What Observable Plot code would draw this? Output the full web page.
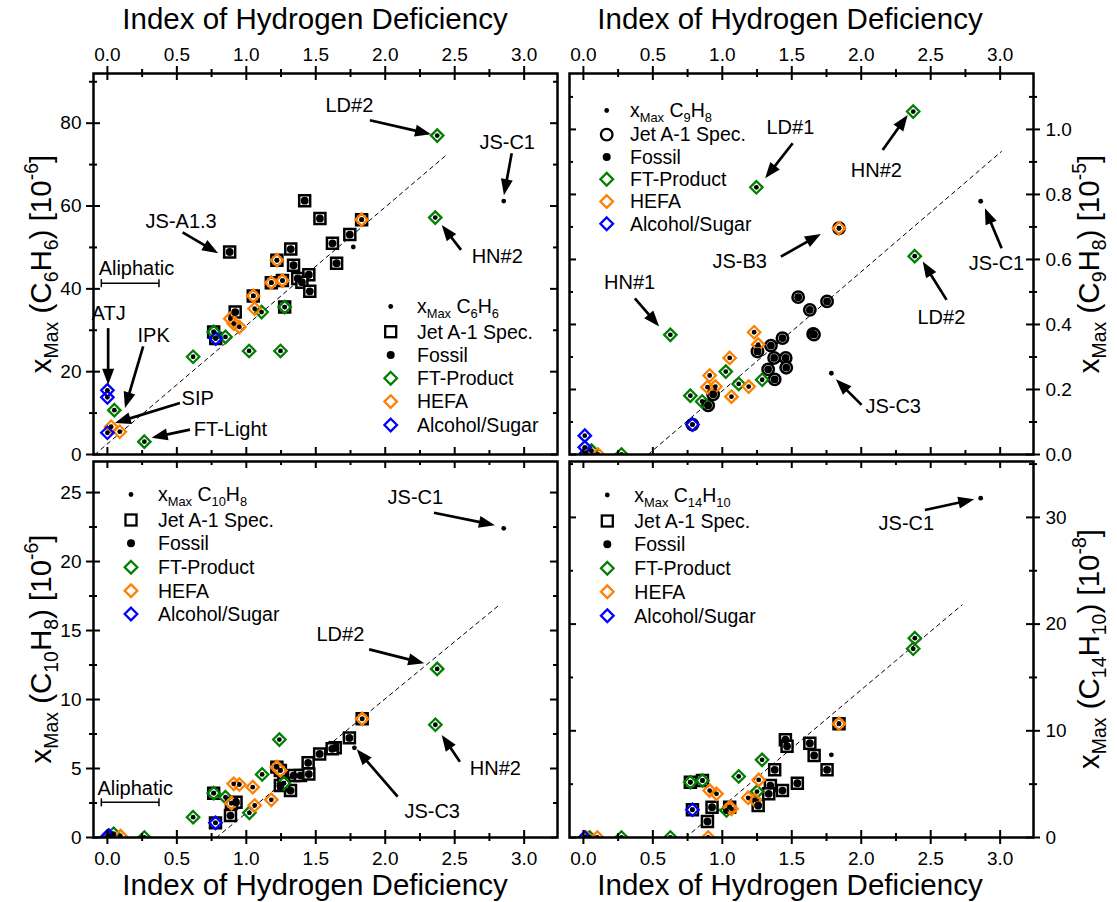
<!DOCTYPE html>
<html><head><meta charset="utf-8">
<script src="https://cdn.jsdelivr.net/npm/d3@7"></script>
<script src="https://cdn.jsdelivr.net/npm/@observablehq/plot@0.6"></script>
<style>
body{margin:0;background:#fff;}
#root{position:relative;width:1117px;height:902px;background:#fff;overflow:hidden;font-family:"Liberation Sans",Arial,sans-serif}
#root svg{position:absolute}
</style></head><body><div id="root"></div>
<script>
// ---------- tick values ----------
const xMajor = [0, 0.5, 1, 1.5, 2, 2.5, 3];
const xMinor = [0.25, 0.75, 1.25, 1.75, 2.25, 2.75];
const c6h6YMajor = [0, 20, 40, 60, 80];
const c6h6YMinor = [10, 30, 50, 70, 90];
const c9h8YMajor = [0, 0.2, 0.4, 0.6, 0.8, 1.0];
const c9h8YMinor = [0.1, 0.3, 0.5, 0.7, 0.9, 1.1];
const c10h8YMajor = [0, 5, 10, 15, 20, 25];
const c10h8YMinor = [2.5, 7.5, 12.5, 17.5, 22.5];
const c14h10YMajor = [0, 10, 20, 30];
const c14h10YMinor = [5, 15, 25, 35];

// ---------- C6H6 (top-left) : [IHD, xMax] ----------
const c6h6Spec = [[1.42,61.3],[1.53,57.0],[1.745,53.1],[1.62,51.0],[1.65,46.2],[0.88,48.9],[1.32,49.6],[1.34,45.7],[1.45,43.4],[1.37,42.5],[1.40,41.6],[1.457,39.4],[0.92,34.4],[0.78,28.0],[1.83,56.7],[1.22,46.9],[1.26,42.0],[1.18,41.5],[1.05,38.3],[1.276,35.6],[0.765,29.6]];
const c6h6Fossil = [[1.42,61.3],[1.53,57.0],[1.745,53.1],[1.62,51.0],[1.65,46.2],[0.88,48.9],[1.32,49.6],[1.34,45.7],[1.45,43.4],[1.37,42.5],[1.40,41.6],[1.457,39.4],[0.92,34.4]];
const c6h6FT = [[1.276,35.6],[0.765,29.6],[1.11,34.4],[0.85,28.4],[0.617,23.6],[1.02,25.0],[1.246,25.0],[2.374,77.0],[2.36,57.2],[0.05,10.7],[0.266,3.1]];
const c6h6HEFA = [[1.83,56.7],[1.22,46.9],[1.26,42.0],[1.18,41.5],[1.05,38.3],[1.06,35.2],[0.885,32.8],[0.91,31.6],[0.95,30.8],[0.027,6.7],[0.089,5.5]];
const c6h6Alc = [[0.78,28.0],[0.0,15.5],[0.0,13.8],[0.0,5.25]];
const c6h6Lone = [[2.853,61.2],[1.77,50.1]];
const c6h6Fit = [[-0.09,0],[2.45,72.6]];
const c6h6Labels = [["LD#2",1.742,84.2],["JS-C1",2.878,75.4],["HN#2",2.806,47.7],["JS-A1.3",0.531,56.3],["Aliphatic",0.209,44.9],["ATJ",0.009,34.0],["IPK",0.333,28.8],["SIP",0.65,13.5],["FT-Light",0.886,5.9]];
const c6h6Arrows = [[1.893,80.6,2.333,77.2],[2.914,72.6,2.858,62.5],[2.549,49.3,2.41,55.3],[0.545,53.5,0.801,48.5],[0.009,30.4,0.009,16.7],[0.261,26.0,0.13,11.1],[0.526,12.3,0.058,7.5],[0.598,5.9,0.322,3.9]];
const c6h6Bar = [-0.04, 0.375, 41.25];

// ---------- C9H8 (top-right) ----------
const c9h8Spec = [[1.546,0.484],[1.63,0.445],[1.654,0.371],[1.754,0.471],[1.66,0.369],[1.433,0.358],[1.35,0.335],[1.373,0.297],[1.456,0.297],[1.46,0.267],[1.33,0.262],[1.377,0.231],[1.253,0.317],[0.934,0.185],[0.898,0.151],[0.785,0.092],[1.84,0.696]];
const c9h8Fossil = [[1.546,0.484],[1.63,0.445],[1.654,0.371],[1.754,0.471],[1.66,0.369],[1.433,0.358],[1.35,0.335],[1.373,0.297],[1.456,0.297],[1.46,0.267],[1.33,0.262],[1.377,0.231],[1.253,0.317],[0.934,0.185],[0.898,0.151]];
const c9h8FT = [[0.626,0.368],[1.025,0.255],[1.118,0.217],[1.287,0.23],[0.77,0.181],[0.855,0.163],[2.374,1.055],[1.245,0.822],[2.385,0.61],[0.058,0.012],[0.274,0.0]];
const c9h8HEFA = [[1.229,0.376],[1.258,0.338],[1.053,0.297],[0.909,0.243],[0.893,0.207],[0.95,0.209],[1.066,0.178],[1.19,0.209],[1.84,0.696],[0.017,0.0],[0.105,0.0]];
const c9h8Alc = [[0.785,0.092],[0.01,0.058],[0.01,0.022],[0.02,0.004]];
const c9h8Lone = [[2.86,0.779],[1.785,0.25]];
const c9h8Fit = [[0.466,0.0],[3.009,0.932]];
const c9h8Labels = [["LD#1",1.49,1.007],["JS-B3",1.125,0.592],["HN#1",0.333,0.53],["HN#2",2.109,0.874],["JS-C1",2.973,0.587],["LD#2",2.577,0.421],["JS-C3",2.23,0.146]];
const c9h8Arrows = [[1.51,0.956,1.312,0.848],[1.425,0.607,1.713,0.677],[0.374,0.479,0.549,0.392],[2.158,0.935,2.338,1.043],[3.014,0.633,2.894,0.756],[2.618,0.474,2.446,0.592],[2.006,0.151,1.821,0.23]];

// ---------- C10H8 (bottom-left) ----------
const c10h8Spec = [[1.742,7.22],[1.64,6.5],[1.618,6.43],[1.528,6.06],[1.445,5.41],[1.34,4.49],[1.39,4.49],[1.45,4.6],[1.318,3.4],[1.245,3.77],[0.926,2.56],[0.886,1.59],[1.834,8.6],[1.22,5.1],[1.245,4.86],[0.893,2.49],[0.765,3.21],[1.27,3.93],[0.778,1.06]];
const c10h8Fossil = [[1.742,7.22],[1.64,6.5],[1.618,6.43],[1.528,6.06],[1.445,5.41],[1.34,4.49],[1.39,4.49],[1.45,4.6],[1.318,3.4],[1.245,3.77],[0.926,2.56],[0.886,1.59]];
const c10h8FT = [[2.374,12.22],[2.361,8.17],[1.238,7.1],[1.114,4.57],[0.85,2.92],[1.022,1.79],[0.617,1.47],[0.765,3.21],[1.27,3.93],[0.045,0.27],[0.266,0.0]];
const c10h8HEFA = [[1.834,8.6],[1.22,5.1],[1.245,4.86],[0.893,2.49],[1.046,3.65],[0.909,3.89],[0.95,3.84],[1.06,2.32],[1.18,2.73],[0.094,0.1],[0.02,0.05]];
const c10h8Alc = [[0.778,1.06],[0.01,0.14],[0.0,0.08]];
const c10h8Lone = [[2.853,22.41],[1.778,6.5]];
const c10h8Fit = [[0.785,0],[2.81,16.76]];
const c10h8Labels = [["JS-C1",2.217,24.66],["LD#2",1.677,14.71],["HN#2",2.793,4.98],["JS-C3",2.338,1.88],["Aliphatic",0.2,3.53]];
const c10h8Arrows = [[2.354,23.5,2.793,22.6],[1.888,13.6,2.284,12.59],[2.541,5.46,2.41,7.39],[2.093,2.92,1.798,6.36]];
const c10h8Bar = [-0.04, 0.375, 2.51];

// ---------- C14H10 (bottom-right) ----------
const c14h10Spec = [[1.454,9.16],[1.466,8.56],[1.63,8.84],[1.661,7.69],[1.754,6.34],[1.377,6.34],[1.346,4.87],[1.334,4.09],[1.54,5.09],[1.433,4.4],[1.258,3.0],[0.926,2.84],[0.893,1.5],[0.77,5.18],[0.857,5.34],[1.84,10.66],[1.053,2.84],[0.785,2.6]];
const c14h10Fossil = [[1.454,9.16],[1.466,8.56],[1.63,8.84],[1.661,7.69],[1.754,6.34],[1.377,6.34],[1.346,4.87],[1.334,4.09],[1.54,5.09],[1.433,4.4],[1.258,3.0],[0.926,2.84],[0.893,1.5]];
const c14h10FT = [[2.386,18.68],[2.374,17.69],[1.286,7.28],[1.118,5.72],[1.25,4.3],[1.03,2.53],[0.77,5.18],[0.857,5.34],[0.626,0.0],[0.274,0.0],[0.045,0.0]];
const c14h10HEFA = [[1.84,10.66],[1.053,2.84],[0.909,4.4],[0.958,4.09],[1.262,5.4],[1.186,3.72],[1.233,3.53],[1.066,2.69],[0.898,0.0],[0.1,0.0],[0.02,0.0]];
const c14h10Alc = [[0.785,2.6],[0.01,0.0]];
const c14h10Lone = [[2.86,31.8],[1.785,7.75]];
const c14h10Fit = [[0.737,0],[2.726,21.8]];
const c14h10Labels = [["JS-C1",2.325,29.46]];
const c14h10Arrows = [[2.462,30.65,2.817,31.65]];

const legendNames = ["Jet A-1 Spec.", "Fossil", "FT-Product", "HEFA", "Alcohol/Sugar"];

// ---------- helpers ----------
const FONT = "'Liberation Sans', Arial, Helvetica, sans-serif";
const GREEN = "#008000", ORANGE = "#ff8000", BLUE = "#0000ff";
const X_DOMAIN = [-0.1, 3.24];

function rich(text, segs, size) {
  let cur = 0;
  for (const [t, k] of segs) {
    const target = k === "sub" ? 0.24 * size : k === "sup" ? -0.42 * size : 0;
    text.append("tspan").attr("dy", target - cur).attr("font-size", k ? 0.66 * size : size).text(t);
    cur = target;
  }
}

function arrowsMark(list) {
  return (index, scales) => {
    const g = d3.create("svg:g");
    for (const [a, b, c, d] of list) {
      const x1 = scales.x(a), y1 = scales.y(b), x2 = scales.x(c), y2 = scales.y(d);
      const ang = Math.atan2(y2 - y1, x2 - x1), L = 16, Wd = 6;
      const bx = x2 - L * Math.cos(ang), by = y2 - L * Math.sin(ang);
      const nx = -Math.sin(ang) * Wd, ny = Math.cos(ang) * Wd;
      g.append("line").attr("x1", x1).attr("y1", y1)
        .attr("x2", bx + 2 * Math.cos(ang)).attr("y2", by + 2 * Math.sin(ang))
        .attr("stroke", "black").attr("stroke-width", 2.7);
      g.append("path").attr("d", `M${x2},${y2}L${bx + nx},${by + ny}L${bx - nx},${by - ny}Z`).attr("fill", "black");
    }
    return g.node();
  };
}

function barMark(bar) {
  return (index, scales) => {
    const g = d3.create("svg:g").attr("stroke", "black").attr("stroke-width", 1.5);
    const xa = scales.x(bar[0]), xb = scales.x(bar[1]), y = scales.y(bar[2]);
    g.append("line").attr("x1", xa).attr("x2", xb).attr("y1", y).attr("y2", y);
    g.append("line").attr("x1", xa).attr("x2", xa).attr("y1", y - 4).attr("y2", y + 4);
    g.append("line").attr("x1", xb).attr("x2", xb).attr("y1", y - 4).attr("y2", y + 4);
    return g.node();
  };
}

function legendMark(lg) {
  return () => {
    const g = d3.create("svg:g").attr("text-anchor", "start");
    const {sx, tx, rows, circle, formula} = lg;
    const fs = 19.5;
    g.append("circle").attr("cx", sx).attr("cy", rows[0]).attr("r", 2.4).attr("fill", "black");
    if (circle) g.append("circle").attr("cx", sx).attr("cy", rows[1]).attr("r", 5.8).attr("fill", "white").attr("stroke", "black").attr("stroke-width", 2.3);
    else g.append("rect").attr("x", sx - 5.5).attr("y", rows[1] - 5.5).attr("width", 11).attr("height", 11).attr("fill", "white").attr("stroke", "black").attr("stroke-width", 2.3);
    g.append("circle").attr("cx", sx).attr("cy", rows[2]).attr("r", 4).attr("fill", "black");
    [GREEN, ORANGE, BLUE].forEach((c, i) => {
      const y = rows[3 + i], h = 6.3;
      g.append("path").attr("d", `M${sx},${y - h}L${sx + h},${y}L${sx},${y + h}L${sx - h},${y}Z`)
        .attr("fill", "none").attr("stroke", c).attr("stroke-width", 2.3);
    });
    const t0 = g.append("text").attr("x", tx).attr("y", rows[0] + 0.35 * fs).attr("font-size", fs)
      .attr("text-anchor", "start").style("white-space", "pre");
    rich(t0, formula, fs);
    legendNames.forEach((n, i) => {
      g.append("text").attr("x", tx).attr("y", rows[i + 1] + 0.35 * fs).attr("font-size", fs)
        .attr("text-anchor", "start").text(n);
    });
    return g.node();
  };
}

function panel(p) {
  const W = p.width - p.ml - p.mr, H = p.height - p.mt - p.mb;
  const tk = {stroke: "black", strokeWidth: 2};
  const xr = (vals, len, side) => {
    const o = {...tk};
    if (side === "bottom-in") Object.assign(o, {insetTop: H - len, insetBottom: 0});
    if (side === "top-in") Object.assign(o, {insetTop: 0, insetBottom: H - len});
    if (side === "top-out") Object.assign(o, {insetTop: -len, insetBottom: H});
    if (side === "bottom-out") Object.assign(o, {insetTop: H, insetBottom: -len});
    return Plot.ruleX(vals, o);
  };
  const yr = (vals, len, side) => {
    const o = {...tk};
    if (side === "left-in") Object.assign(o, {insetLeft: 0, insetRight: W - len});
    if (side === "right-in") Object.assign(o, {insetLeft: W - len, insetRight: 0});
    if (side === "left-out") Object.assign(o, {insetLeft: -len, insetRight: W});
    if (side === "right-out") Object.assign(o, {insetLeft: W, insetRight: -len});
    return Plot.ruleY(vals, o);
  };
  const xOut = p.xAxis === "top" ? "top-out" : "bottom-out";
  const yOut = p.yAxis === "left" ? "left-out" : "right-out";
  const X = d => d[0], Y = d => d[1];
  const all = [...p.spec, ...p.ft, ...p.hefa, ...p.alc, ...p.lone];
  const dia = (data, c) => Plot.dot(data, {x: X, y: Y, symbol: "diamond2", r: 5.6, stroke: c, strokeWidth: 2.3, fill: "none", clip: true});
  const marks = [
    Plot.line(p.fit, {x: X, y: Y, stroke: "black", strokeWidth: 1, strokeDasharray: "4,4"}),
    Plot.dot(p.spec, {x: X, y: Y, symbol: p.circle ? "circle" : "square", r: p.circle ? 5.7 : 6.2, stroke: "black", strokeWidth: 2.5, fill: "white", clip: true}),
    dia(p.ft, GREEN), dia(p.hefa, ORANGE), dia(p.alc, BLUE),
    Plot.dot(p.fossil, {x: X, y: Y, r: 3.9, fill: "black", clip: true}),
    Plot.dot(all, {x: X, y: Y, r: 2.4, fill: "black", clip: true}),
    Plot.text(p.labels, {x: d => d[1], y: d => d[2], text: d => d[0], fontSize: 20, fill: "black"}),
    arrowsMark(p.arrows),
    xr(xMajor, 7, "bottom-in"), xr(xMinor, 4, "bottom-in"),
    xr(xMajor, 7, "top-in"), xr(xMinor, 4, "top-in"),
    xr(xMajor, 7, xOut), xr(xMinor, 4, xOut),
    yr(p.yMajor, 7, "left-in"), yr(p.yMinor, 4, "left-in"),
    yr(p.yMajor, 7, "right-in"), yr(p.yMinor, 4, "right-in"),
    yr(p.yMajor, 7, yOut), yr(p.yMinor, 4, yOut),
    Plot.frame({stroke: "black", strokeWidth: 2.5}),
    legendMark(p.legend)
  ];
  if (p.bar) marks.push(barMark(p.bar));
  const svg = Plot.plot({
    width: p.width, height: p.height,
    marginTop: p.mt, marginRight: p.mr, marginBottom: p.mb, marginLeft: p.ml,
    x: {domain: X_DOMAIN, axis: p.xAxis, ticks: xMajor, tickFormat: d3.format(".1f"), tickSize: 0, tickPadding: p.xAxis === "top" ? 13 : 14, label: null},
    y: {domain: p.yDomain, axis: p.yAxis, ticks: p.yMajor, tickFormat: p.yFormat, tickSize: 0, tickPadding: 12, label: null},
    style: {background: "transparent", overflow: "visible", fontFamily: FONT, fontSize: "19px", color: "black"},
    marks
  });
  svg.style.position = "absolute";
  svg.style.left = p.left + "px";
  svg.style.top = p.top + "px";
  svg.style.maxWidth = "none";
  return svg;
}

const root = document.getElementById("root");
const sub = (t) => [t, "sub"];
root.appendChild(panel({
  left: 0, top: 0, width: 562, height: 457, ml: 93, mr: 5, mt: 73, mb: 3,
  xAxis: "top", yAxis: "left", yDomain: [0, 92], yMajor: c6h6YMajor, yMinor: c6h6YMinor, yFormat: d3.format("d"),
  spec: c6h6Spec, fossil: c6h6Fossil, ft: c6h6FT, hefa: c6h6HEFA, alc: c6h6Alc, lone: c6h6Lone, fit: c6h6Fit,
  labels: c6h6Labels, arrows: c6h6Arrows, bar: c6h6Bar,
  legend: {sx: 390.7, tx: 417, rows: [306.5, 331.7, 355, 378.3, 401.6, 425], formula: [["x"], sub("Max"), [" C"], sub("6"), ["H"], sub("6")]}
}));
root.appendChild(panel({
  left: 562, top: 0, width: 555, height: 457, ml: 7, mr: 84, mt: 73, mb: 3,
  xAxis: "top", yAxis: "right", yDomain: [0, 1.172], yMajor: c9h8YMajor, yMinor: c9h8YMinor, yFormat: d3.format(".1f"),
  spec: c9h8Spec, fossil: c9h8Fossil, ft: c9h8FT, hefa: c9h8HEFA, alc: c9h8Alc, lone: c9h8Lone, fit: c9h8Fit, circle: true,
  labels: c9h8Labels, arrows: c9h8Arrows,
  legend: {sx: 44.7, tx: 68, rows: [110.5, 134.6, 156.9, 179.2, 201.5, 223.8], circle: true, formula: [["x"], sub("Max"), [" C"], sub("9"), ["H"], sub("8")]}
}));
root.appendChild(panel({
  left: 0, top: 457, width: 562, height: 445, ml: 93, mr: 5, mt: 4, mb: 65,
  xAxis: "bottom", yAxis: "left", yDomain: [0, 27.25], yMajor: c10h8YMajor, yMinor: c10h8YMinor, yFormat: d3.format("d"),
  spec: c10h8Spec, fossil: c10h8Fossil, ft: c10h8FT, hefa: c10h8HEFA, alc: c10h8Alc, lone: c10h8Lone, fit: c10h8Fit,
  labels: c10h8Labels, arrows: c10h8Arrows, bar: c10h8Bar,
  legend: {sx: 131, tx: 158, rows: [37.5, 63, 86.3, 110.3, 133.7, 157], formula: [["x"], sub("Max"), [" C"], sub("10"), ["H"], sub("8")]}
}));
root.appendChild(panel({
  left: 562, top: 457, width: 555, height: 445, ml: 7, mr: 84, mt: 4, mb: 65,
  xAxis: "bottom", yAxis: "right", yDomain: [0, 35.24], yMajor: c14h10YMajor, yMinor: c14h10YMinor, yFormat: d3.format("d"),
  spec: c14h10Spec, fossil: c14h10Fossil, ft: c14h10FT, hefa: c14h10HEFA, alc: c14h10Alc, lone: c14h10Lone, fit: c14h10Fit,
  labels: c14h10Labels, arrows: c14h10Arrows,
  legend: {sx: 45.3, tx: 72.3, rows: [38, 64, 87.3, 111.3, 134.7, 158.7], formula: [["x"], sub("Max"), [" C"], sub("14"), ["H"], sub("10")]}
}));

// ---------- axis titles ----------
const ov = d3.select(root).append("svg").attr("width", 1117).attr("height", 902)
  .style("left", "0px").style("top", "0px").style("pointer-events", "none")
  .attr("font-family", FONT).attr("fill", "black");
const TS = 29.5;
[[315, 29], [790, 29], [315, 895], [790, 895]].forEach(([x, y]) => {
  ov.append("text").attr("x", x).attr("y", y).attr("text-anchor", "middle").attr("font-size", TS).text("Index of Hydrogen Deficiency");
});
const yTitles = [
  [40, 264, [["x"], sub("Max"), [" (C"], sub("6"), ["H"], sub("6"), [") [10"], ["-6", "sup"], ["]"]]],
  [1088, 264, [["x"], sub("Max"), [" (C"], sub("9"), ["H"], sub("8"), [") [10"], ["-5", "sup"], ["]"]]],
  [40, 649, [["x"], sub("Max"), [" (C"], sub("10"), ["H"], sub("8"), [") [10"], ["-6", "sup"], ["]"]]],
  [1088, 649, [["x"], sub("Max"), [" (C"], sub("14"), ["H"], sub("10"), [") [10"], ["-8", "sup"], ["]"]]]
];
yTitles.forEach(([x, y, segs]) => {
  const t = ov.append("g").attr("transform", `translate(${x + 0.36 * TS},${y}) rotate(-90)`)
    .append("text").attr("text-anchor", "middle").attr("font-size", TS).style("white-space", "pre");
  rich(t, segs, TS);
});
</script></body></html>
